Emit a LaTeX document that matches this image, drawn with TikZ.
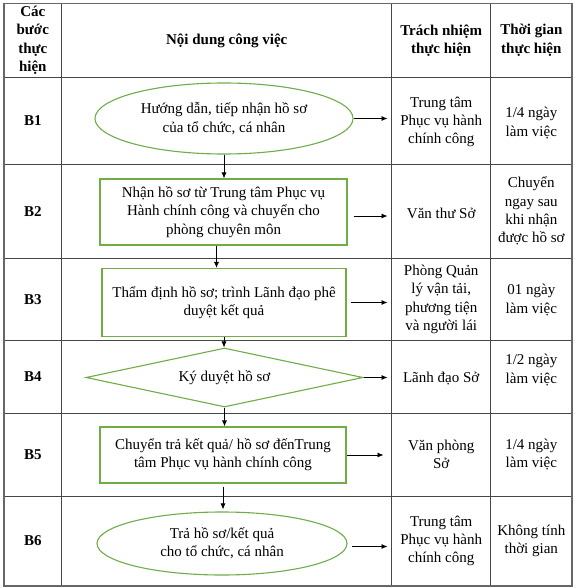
\documentclass[tikz,border=0pt]{standalone}
\usepackage{fontspec}
\setmainfont{Liberation Serif}
\usetikzlibrary{arrows.meta,positioning,shapes.geometric,calc}
\definecolor{flowgreen}{RGB}{112,173,71}
\definecolor{gridgray}{RGB}{70,70,70}

\begin{document}
\begin{tikzpicture}[x=1pt,y=-1pt,
  every node/.style={font=\fontsize{15}{18.3}\selectfont,align=center,inner sep=0pt},
  head/.style={font=\fontsize{15}{18.3}\selectfont\bfseries},
  gridline/.style={gridgray,line width=0.8pt},
  stepbox/.style={draw=flowgreen,line width=1.1pt,minimum width=246pt,minimum height=66pt},
  roundstep/.style={ellipse,draw=flowgreen,line width=1.1pt},
  checkstep/.style={diamond,aspect=4.7,draw=flowgreen,line width=1.1pt,minimum width=277pt,minimum height=59pt},
  flow/.style={-{Latex[length=6pt,width=5pt]},line width=0.8pt}]
  \fill[white] (0,0) rectangle (575,588);
  \useasboundingbox (0,0) rectangle (575,588);
  \foreach \yrow in {77.3,164.3,258,340.7,413,496}
    \draw[gridline] (4,\yrow) -- (572,\yrow);
  \foreach \xcol in {61.7,391.7,490.7}
    \draw[gridline] (\xcol,3.5) -- (\xcol,586);
  \draw[gray!80!black,line width=1.6pt] (4,3.5) rectangle (572,586);

  \node[head] (hstep) at (32.8,40.4) {Các\\bước\\thực\\hiện};
  \node[head] (hwork) at (226.7,40.4) {Nội dung công việc};
  \node[head] (hduty) at (441.2,40.4) {Trách nhiệm\\thực hiện};
  \node[head] (htime) at (531.3,40.4) {Thời gian\\thực hiện};

  \node[head] (s1) at (32.8,120.8) {B1};
  \node[head] (s2) at (32.8,211.2) {B2};
  \node[head] (s3) at (32.8,299.4) {B3};
  \node[head] (s4) at (32.8,376.9) {B4};
  \node[head] (s5) at (32.8,454.5) {B5};
  \node[head] (s6) at (32.8,541) {B6};

  \node[roundstep,minimum width=258pt,minimum height=71pt] (f1) at (224,118.5) {Hướng dẫn, tiếp nhận hồ sơ\\của tổ chức, cá nhân};
  \node[stepbox,minimum width=247pt] (f2) at (223.5,212) {Nhận hồ sơ từ Trung tâm Phục vụ\\Hành chính công và chuyển cho\\phòng chuyên môn};
  \node[stepbox,minimum width=244pt,minimum height=68pt] (f3) at (224,302.5) {Thẩm định hồ sơ; trình Lãnh đạo phê\\duyệt kết quả};
  \node[checkstep] (f4) at (224.5,377.5) {Ký duyệt hồ sơ};
  \node[stepbox,minimum height=56pt] (f5) at (223,455) {Chuyển trả kết quả/ hồ sơ đếnTrung\\tâm Phục vụ hành chính công};
  \node[roundstep,minimum width=250pt,minimum height=63pt] (f6) at (222,543.5) {Trả hồ sơ/kết quả\\cho tổ chức, cá nhân};

  \node (d1) at (441.2,122) {Trung tâm\\Phục vụ hành\\chính công};
  \node (d2) at (441.2,213) {Văn thư Sở};
  \node (d3) at (441.2,299.4) {Phòng Quản\\lý vận tải,\\phương tiện\\và người lái};
  \node (d4) at (441.2,379) {Lãnh đạo Sở};
  \node (d5) at (441.2,454.5) {Văn phòng\\Sở};
  \node (d6) at (441.2,541) {Trung tâm\\Phục vụ hành\\chính công};

  \node (t1) at (531.3,123) {1/4 ngày\\làm việc};
  \node (t2) at (531.3,211.2) {Chuyển\\ngay sau\\khi nhận\\được hồ sơ};
  \node (t3) at (531.3,300) {01 ngày\\làm việc};
  \node (t4) at (531.3,370) {1/2 ngày\\làm việc};
  \node (t5) at (531.3,454.5) {1/4 ngày\\làm việc};
  \node (t6) at (531.3,541) {Không tính\\thời gian};

  \draw[flow] (f1.south) -- (f1.south |- f2.north);
  \draw[flow] ([xshift=-7pt]f2.south) -- ([xshift=-7pt]f2.south |- f3.north);
  \draw[flow] (f3.south) -- (f3.south |- f4.north);
  \draw[flow] (f4.south) -- (f4.south |- f5.north);
  \draw[flow,shorten <=3pt,shorten >=2pt] (f5.south) -- (f5.south |- f6.north);

  \coordinate (tip) at (387.5,0);
  \draw[flow] (f1.east) -- (f1.east -| tip);
  \draw[flow,shorten <=6pt] ([yshift=-4pt]f2.east) -- ([yshift=-4pt]f2.east -| tip);
  \draw[flow,shorten <=4pt] (f3.east) -- (f3.east -| tip);
  \draw[flow] (f4.east) -- (f4.east -| tip);
  \draw[flow] (f5.east) -- ([xshift=-4pt]f5.east -| tip);
  \draw[flow,shorten <=4pt] ([yshift=-3pt]f6.east) -- ([yshift=-3pt]f6.east -| tip);
\end{tikzpicture}
\end{document}
